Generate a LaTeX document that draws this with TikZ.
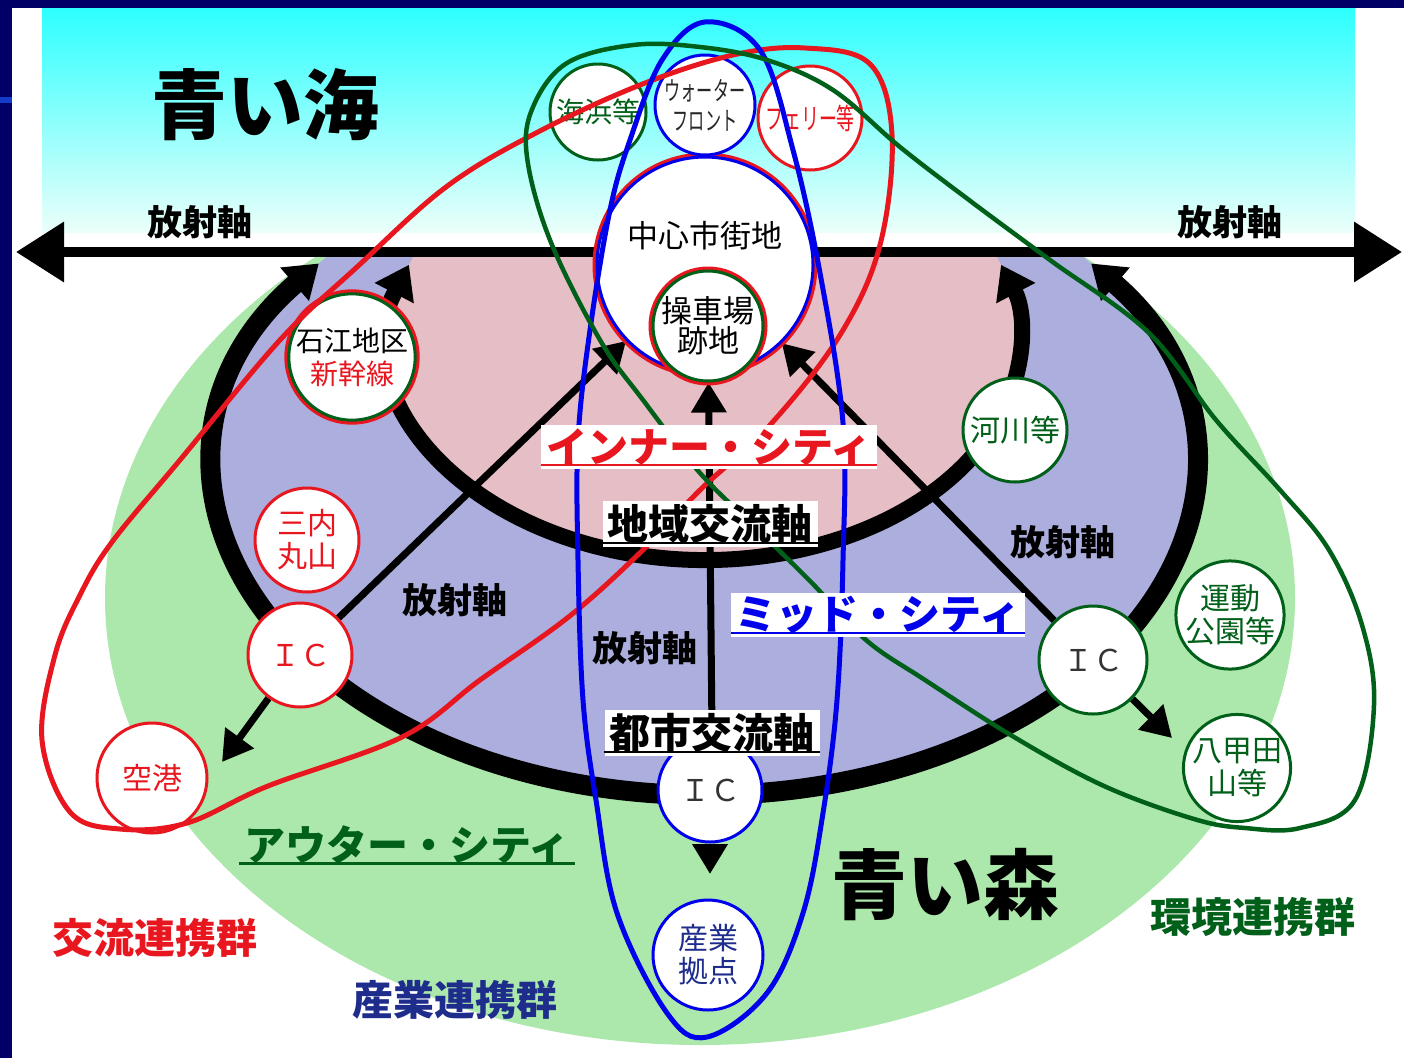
\documentclass[tikz,border=0pt]{standalone}
\usepackage{fontspec}
\newfontfamily\jp{Noto Sans CJK JP}
\newfontfamily\jpnarrow[FakeStretch=0.62]{Noto Sans CJK JP}
\usetikzlibrary{arrows.meta}

\pgfdeclarelayer{bg}
\pgfdeclarelayer{under}
\pgfdeclarelayer{loops}
\pgfdeclarelayer{top}
\pgfsetlayers{bg,under,main,loops,top}

\definecolor{navy}{RGB}{0,0,102}
\definecolor{slideblue}{RGB}{20,60,200}
\definecolor{skytop}{RGB}{45,255,255}
\definecolor{skymid}{RGB}{140,255,255}
\definecolor{skybot}{RGB}{235,255,250}
\definecolor{outerfill}{RGB}{172,232,172}
\definecolor{midfill}{RGB}{172,174,222}
\definecolor{innerfill}{RGB}{230,190,198}
\definecolor{jred}{RGB}{232,22,30}
\definecolor{jgreen}{RGB}{0,95,25}
\definecolor{jblue}{RGB}{0,0,235}
\definecolor{jnavy}{RGB}{30,45,140}

\tikzset{
  axisring/.style={line width=20pt, {Triangle[length=32pt,width=42pt]}-{Triangle[length=32pt,width=42pt]}},
  axisline/.style={line width=10pt, {Triangle[length=48pt,width=58pt]}-{Triangle[length=48pt,width=58pt]}},
  radialline/.style={line width=7pt, -{Triangle[length=30pt,width=34pt]}},
  spot/.style={circle, fill=white, line width=3pt, inner sep=0pt, minimum size=104pt,
    align=center, font=\jp\fontsize{30}{33}\selectfont},
  redspot/.style={spot, draw=jred, text=jred},
  greenspot/.style={spot, draw=jgreen, text=jgreen},
  bluespot/.style={spot, draw=jblue, text=jnavy},
  twin/.style={preaction={draw=#1, line width=9pt}},
  grouploop/.style={line width=5pt, line join=round},
  ulabel/.style={inner xsep=5pt, inner ysep=3pt, font=\jp\bfseries\fontsize{41}{44}\selectfont},
  uline/.style={line width=2.2pt},
  axislabel/.style={font=\jp\bfseries\fontsize{35}{38}\selectfont},
  grouplabel/.style={font=\jp\bfseries\fontsize{41}{44}\selectfont},
  bigtitle/.style={font=\jp\bfseries\fontsize{76}{80}\selectfont},
}

\begin{document}
\begin{tikzpicture}[x=1pt,y=-1pt]
  \useasboundingbox (0,0) rectangle (1404,1058);
  \coordinate (axL) at (16,252);
  \coordinate (axR) at (1402,252);
  \coordinate (tipSW) at (222,762);
  \coordinate (tipSE) at (1172,738);
  \coordinate (tipS) at (710,874);

  \begin{pgfonlayer}{bg}
    \fill[navy] (0,0) rectangle (1404,1058);
    \fill[white] (12,8) rectangle (1404,1058);
    \fill[slideblue] (0,97) rectangle (12,103);
    \shade[top color=skytop, middle color=skymid, bottom color=skybot] (42,8) rectangle (1355,232);

    % city zones
    \begin{scope}
      \clip (0,252) rectangle (1404,1058);
      \fill[outerfill] (700,598) ellipse [x radius=595, y radius=447];
      \fill[midfill] (705,466) ellipse [x radius=490, y radius=329];
      \fill[innerfill] (705,340) ellipse [x radius=315, y radius=220];
    \end{scope}
    \draw[axisring] (705,466) ++(218:490 and 329)
      arc[start angle=218, end angle=-38, x radius=490, y radius=329];
    \draw[axisring, line width=16pt] (705,340) ++(200:315 and 220)
      arc[start angle=200, end angle=-20, x radius=315, y radius=220];
    \draw[axisline] (axL) -- (axR);
  \end{pgfonlayer}

  \node[spot, draw=jblue, twin=jred, minimum size=216pt] (chushin) at (705,265) {};
  \node[font=\jp\fontsize{31}{33}\selectfont] (chushinT) at (705,236) {中心市街地};
  \node[spot, draw=jgreen, twin=jred, minimum size=110pt, font=\jp\fontsize{31}{30}\selectfont] (sosha) at (708,326) {操車場\\跡地};
  \node[greenspot, minimum size=96pt, font=\jp\fontsize{28}{30}\selectfont] (kaihin) at (598,112) {海浜等};
  \node[bluespot, text=black!85, minimum size=100pt, font=\jpnarrow\fontsize{26}{30}\selectfont] (water) at (705,105) {ウォーター\\フロント};
  \node[redspot, minimum size=104pt, font=\jpnarrow\fontsize{29}{30}\selectfont] (ferry) at (810,118) {フェリー等};
  \node[spot, draw=jgreen, twin=jred, minimum size=120pt, font=\jp\fontsize{28}{33}\selectfont] (ishie) at (352,357) {石江地区\\\textcolor{jred}{新幹線}};
  \node[redspot] (sannai) at (307,540) {三内\\丸山};
  \node[redspot] (icL) at (300,655) {ＩＣ};
  \node[redspot, minimum size=110pt] (kuko) at (152,778) {空港};
  \node[greenspot] (kasen) at (1015,430) {河川等};
  \node[greenspot, minimum size=108pt, text=black!80] (icR) at (1093,660) {ＩＣ};
  \node[greenspot] (undo) at (1230,615) {運動\\公園等};
  \node[greenspot] (hakkoda) at (1237,768) {八甲田\\山等};
  \node[bluespot, text=black!80] (icB) at (710,790) {ＩＣ};
  \node[bluespot, minimum size=110pt] (sangyo) at (708,955) {産業\\拠点};

  \begin{pgfonlayer}{top}
    \node[ulabel, fill=white, text=jred] (inner) at (709,447) {インナー・シティ};
    \node[ulabel, fill=white] (chiiki) at (710,524) {地域交流軸};
    \node[ulabel, fill=white, text=jblue] (mid) at (878,615) {ミッド・シティ};
    \node[ulabel, fill=white] (toshi) at (712,733) {都市交流軸};
    \node[ulabel, text=jgreen] (outer) at (407,845) {アウター・シティ};
    \draw[uline, jred] ([yshift=4pt]inner.south west) -- ([yshift=4pt]inner.south east);
    \draw[uline] ([yshift=4pt]chiiki.south west) -- ([yshift=4pt]chiiki.south east);
    \draw[uline, jblue] ([yshift=4pt]mid.south west) -- ([yshift=4pt]mid.south east);
    \draw[uline] ([yshift=4pt]toshi.south west) -- ([yshift=4pt]toshi.south east);
    \draw[uline, jgreen] ([yshift=4pt]outer.south west) -- ([yshift=4pt]outer.south east);

    \node[axislabel] (axisW) at (200,222) {放射軸};
    \node[axislabel] (axisE) at (1230,222) {放射軸};
    \node[axislabel] (axisSW) at (455,600) {放射軸};
    \node[axislabel] (axisS) at (645,648) {放射軸};
    \node[axislabel] (axisSE) at (1063,542) {放射軸};

    \node[bigtitle] (umi) at (265,105) {青い海};
    \node[bigtitle] (mori) at (945,885) {青い森};
    \node[grouplabel, text=jred] (koryu) at (155,938) {交流連携群};
    \node[grouplabel, text=jnavy] (sangyoG) at (455,1000) {産業連携群};
    \node[grouplabel, text=jgreen] (kankyo) at (1253,917) {環境連携群};
  \end{pgfonlayer}

  \begin{pgfonlayer}{under}
    \draw[radialline] (icL) -- (chushin);
    \draw[radialline] (icL) -- (tipSW);
    \draw[radialline] (icR) -- (chushin);
    \draw[radialline] (icR) -- (tipSE);
    \draw[radialline] (toshi) -- (sosha);
    \draw[radialline] (icB) -- (tipS);
  \end{pgfonlayer}

  \begin{pgfonlayer}{loops}
    % 交流 / 産業 / 環境
    \draw[grouploop, jred] plot[smooth cycle, tension=0.6] coordinates {
      (42,740) (55,655) (80,595) (112,542) (180,460) (280,340) (357,267) (446,187)
      (536,133) (640,85) (733,55) (805,48) (870,64) (892,135) (880,245) (840,335)
      (770,425) (700,490) (647,546) (571,615) (480,680) (402,737) (268,786)
      (187,823) (120,829) (70,812)};
    \draw[grouploop, jblue] plot[smooth cycle, tension=0.6] coordinates {
      (705,22) (662,60) (630,140) (610,210) (590,330) (578,440) (578,560) (583,700)
      (596,800) (617,913) (667,1013) (707,1037) (767,993) (803,913) (823,813)
      (837,700) (843,560) (843,423) (820,273) (793,150) (760,50)};
    \draw[grouploop, line width=4.5pt, jgreen] plot[smooth cycle, tension=0.6] coordinates {
      (527,157) (533,107) (567,63) (633,45) (700,47) (767,60) (833,90) (900,147)
      (969,200) (1050,260) (1149,333) (1216,420) (1280,490) (1329,550) (1362,625)
      (1374,705) (1355,800) (1300,828) (1245,828) (1194,819) (1104,786) (1014,737)
      (925,680) (866,640) (812,583) (758,530) (700,473) (643,400) (600,340) (550,240)};
  \end{pgfonlayer}
\end{tikzpicture}
\end{document}
